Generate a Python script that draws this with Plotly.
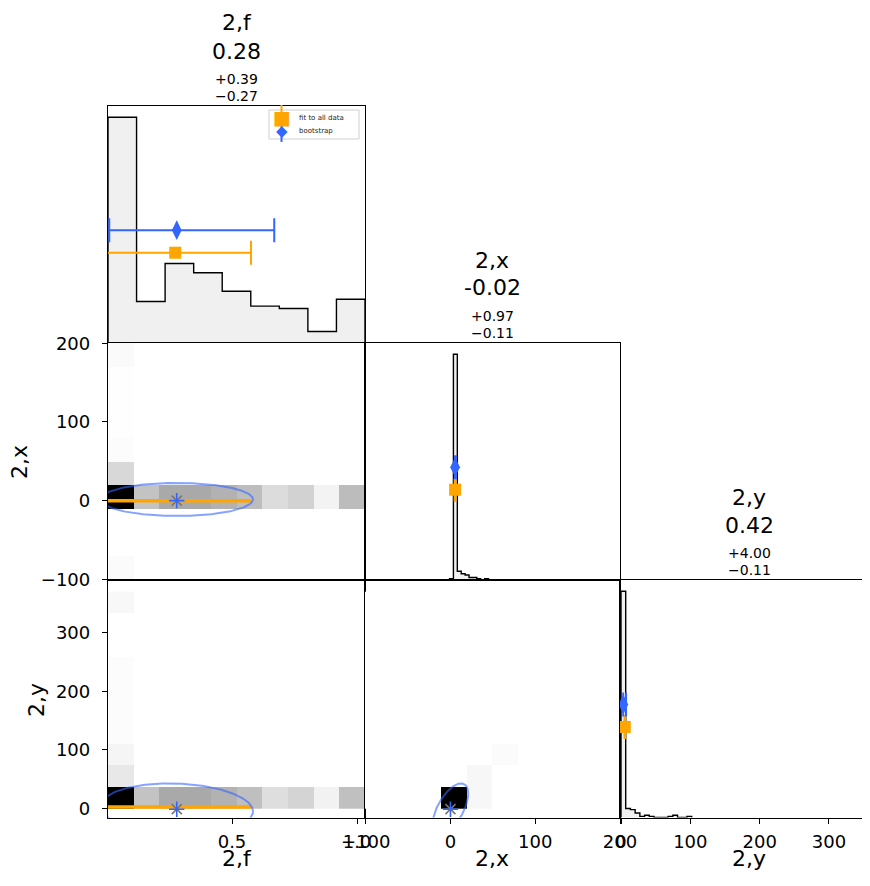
import numpy as np
import plotly.graph_objects as go

W, H = 870, 886
OFF = 8  # page body margin in the browser
FONT = "DejaVu Sans"
BLUE = "#3366ff"
ORANGE = "#ffa500"
ELL = "rgba(51,102,255,0.6)"

# ---------------- data ----------------
param_names = ["2,f", "2,x", "2,y"]
title_values = ["0.28", "-0.02", "0.42"]
title_plus = ["+0.39", "+0.97", "+4.00"]
title_minus = ["\u22120.27", "\u22120.11", "\u22120.11"]
legend_labels = ["fit to all data", "bootstrap"]

# 1D histogram of 2,f (9 bins over the data range)
f_hist_range = [0.004, 1.032]
f_hist_counts = [196, 36, 69, 61, 45, 32, 30, 10, 38]

# 1D histogram of 2,x
x_hist_start, x_hist_width = -88.5, 4.6
x_hist_counts = [0, 0, 0, 0, 0, 0, 0, 0, 0, 0,
                 0, 0, 0, 0, 0, 0, 0, 0, 0, 1,
                 180, 7, 5, 4, 2, 2, 1, 0, 1, 0,
                 0, 0, 0, 0, 0, 0, 0, 0, 0, 0,
                 0, 0, 0, 0, 0, 0, 0, 0, 0, 0,
                 0, 0, 0, 0, 0, 0, 0, 0, 0, 0]

# 1D histogram of 2,y
y_hist_start, y_hist_width = 0.0, 6.8
y_hist_counts = [200, 8, 7, 4, 1, 2, 1, 0, 0, 0, 1, 2, 0, 0, 1]

# 2D histogram bin ranges (10 x 10)
f2d_range = [0.004, 1.032]
x2d_range = [-100.9, 200.4]
y2d_range = [0.0, 370.0]

# 2,x (rows, bottom to top) vs 2,f (columns)
fx_counts = [
    [1.2, 0, 0, 0, 0, 0, 0, 0, 0, 0],
    [0, 0, 0, 0, 0, 0, 0, 0, 0, 0],
    [0, 0, 0, 0, 0, 0, 0, 0, 0, 0],
    [76, 18, 25.6, 25.6, 23, 19.7, 10.4, 13.4, 3.6, 20],
    [11.5, 0, 0, 0, 0, 0, 0, 0, 0, 0],
    [1.0, 0, 0, 0, 0, 0, 0, 0, 0, 0],
    [0.3, 0, 0, 0, 0, 0, 0, 0, 0, 0],
    [0.3, 0, 0, 0, 0, 0, 0, 0, 0, 0],
    [0.3, 0, 0, 0, 0, 0, 0, 0, 0, 0],
    [1.5, 0, 0, 0, 0, 0, 0, 0, 0, 0],
]
# 2,y (rows) vs 2,f (columns)
fy_counts = [
    [76, 18, 25.6, 25.6, 23, 19, 9.8, 12.8, 3.9, 18.8],
    [6.9, 0, 0, 0, 0, 0, 0, 0, 0, 0],
    [3.0, 0, 0, 0, 0, 0, 0, 0, 0, 0],
    [1.0, 0, 0, 0, 0, 0, 0, 0, 0, 0],
    [1.0, 0, 0, 0, 0, 0, 0, 0, 0, 0],
    [1.0, 0, 0, 0, 0, 0, 0, 0, 0, 0],
    [1.0, 0, 0, 0, 0, 0, 0, 0, 0, 0],
    [0, 0, 0, 0, 0, 0, 0, 0, 0, 0],
    [0, 0, 0, 0, 0, 0, 0, 0, 0, 0],
    [2.0, 0, 0, 0, 0, 0, 0, 0, 0, 0],
]
# 2,y (rows) vs 2,x (columns)
xy_counts = [
    [0, 0, 0, 90, 2.8, 0, 0, 0, 0, 0],
    [0, 0, 0, 0, 2.8, 0, 0, 0, 0, 0],
    [0, 0, 0, 0, 0, 1.4, 0, 0, 0, 0],
    [0, 0, 0, 0, 0, 0, 0, 0, 0, 0],
    [0, 0, 0, 0, 0, 0, 0, 0, 0, 0],
    [0, 0, 0, 0, 0, 0, 0, 0, 0, 0],
    [0, 0, 0, 0, 0, 0, 0, 0, 0, 0],
    [0, 0, 0, 0, 0, 0, 0, 0, 0, 0],
    [0, 0, 0, 0, 0, 0, 0, 0, 0, 0],
    [0, 0, 0, 0, 0, 0, 0, 0, 0, 0],
]

# point estimates: [center, minus, plus]
fit_f = [0.273, 0.30, 0.303]
fit_x = [5.5, 0.5, 0.5]
fit_y = [5.5, 0.5, 0.5]
boot_f = [0.279, 0.27, 0.39]
boot_x = [5.5, 0.11, 0.97]
boot_y = [3.3, 0.11, 4.00]

# best-fit point for 2D panels (2,f, 2,x, 2,y) and the fit line heights
star_f, star_x, star_y = 0.279, 0.0, -1.5
fit_line_x_level, fit_line_y_level = 0.0, 2.2
# ellipse: centre and half-extents, correlations
ell_center = [0.279, 1.5, -1.0]
ell_half = [0.305, 21.0, 43.5]
ell_rho_fx, ell_rho_fy, ell_rho_xy = 0.0, -0.1, 0.6

tick_f = [0.5, 1.0]
tick_f_text = ["0.5", "1.0"]
tick_x = [-100, 0, 100, 200]
tick_x_text = ["\u2212100", "0", "100", "200"]
tick_y = [0, 100, 200, 300]
tick_y_text = ["0", "100", "200", "300"]

# ---------------- helpers ----------------
def fx(px):
    return (px - OFF) / W

def fy(py):
    return 1 - (py - OFF) / H

def step_xy(edges, counts):
    xs, ys = [edges[0]], [0]
    for i, c in enumerate(counts):
        xs += [edges[i], edges[i + 1]]
        ys += [c, c]
    xs.append(edges[-1])
    ys.append(0)
    return xs, ys

def ellipse(cx, cy, ax, ay, rho, n=240):
    t = np.linspace(0, 2 * np.pi, n)
    x = cx + ax * np.cos(t)
    y = cy + ay * (rho * np.cos(t) + np.sqrt(1 - rho ** 2) * np.sin(t))
    return x, y

cols = [(108, 365), (365, 620), (620, 878)]
rows = [(106, 343), (343, 580), (580, 817.5)]

fig = go.Figure()

def add_hist(edges, counts, xa, ya):
    xs, ys = step_xy(edges, counts)
    fig.add_trace(go.Scatter(x=xs, y=ys, mode="lines", fill="tozeroy",
                             fillcolor="#f0f0f0", line=dict(color="black", width=1.4),
                             xaxis=xa, yaxis=ya, showlegend=False, hoverinfo="skip"))

def add_points(fit, boot, ymax_count, xa, ya):
    fig.add_trace(go.Scatter(
        x=[fit[0]], y=[0.4 * ymax_count], mode="markers", name=legend_labels[0],
        marker=dict(symbol="square", size=12, color=ORANGE),
        error_x=dict(type="data", symmetric=False, array=[fit[2]], arrayminus=[fit[1]],
                     color=ORANGE, thickness=2, width=12),
        xaxis=xa, yaxis=ya, showlegend=False, hoverinfo="skip"))
    fig.add_trace(go.Scatter(
        x=[boot[0]], y=[0.5 * ymax_count], mode="markers", name=legend_labels[1],
        marker=dict(symbol="diamond-tall", size=14, color=BLUE),
        error_x=dict(type="data", symmetric=False, array=[boot[2]], arrayminus=[boot[1]],
                     color=BLUE, thickness=2, width=12),
        xaxis=xa, yaxis=ya, showlegend=False, hoverinfo="skip"))

def add_heat(xr, yr, z, xa, ya):
    xe = np.linspace(xr[0], xr[1], len(z[0]) + 1)
    ye = np.linspace(yr[0], yr[1], len(z) + 1)
    fig.add_trace(go.Heatmap(x=xe, y=ye, z=z, zmin=0, zmax=max(max(r) for r in z),
                             colorscale=[[0, "#ffffff"], [1, "#000000"]], showscale=False,
                             xaxis=xa, yaxis=ya, hoverinfo="skip"))

def add_star(x, y, xa, ya):
    fig.add_trace(go.Scatter(x=[x], y=[y], mode="markers",
                             marker=dict(symbol="x-thin", size=10, line=dict(color="#777777", width=1.6)),
                             xaxis=xa, yaxis=ya, showlegend=False, hoverinfo="skip"))
    fig.add_trace(go.Scatter(x=[x], y=[y], mode="markers",
                             marker=dict(symbol="cross-thin", size=11, line=dict(color=BLUE, width=1.6)),
                             xaxis=xa, yaxis=ya, showlegend=False, hoverinfo="skip"))

def add_ell(cx, cy, ax, ay, rho, xa, ya):
    ex, ey = ellipse(cx, cy, ax, ay, rho)
    fig.add_trace(go.Scatter(x=ex, y=ey, mode="lines", line=dict(color=ELL, width=2),
                             xaxis=xa, yaxis=ya, showlegend=False, hoverinfo="skip"))

# ---- panel 1: 2,f histogram
f_edges = np.linspace(f_hist_range[0], f_hist_range[1], len(f_hist_counts) + 1)
add_hist(f_edges, f_hist_counts, "x", "y")
add_points(fit_f, boot_f, max(f_hist_counts), "x", "y")

# ---- panel 2: 2,x vs 2,f
add_heat(f2d_range, x2d_range, fx_counts, "x2", "y2")
fig.add_trace(go.Scatter(x=[fit_f[0] - fit_f[1], fit_f[0] + fit_f[2]],
                         y=[fit_line_x_level, fit_line_x_level], mode="lines",
                         line=dict(color=ORANGE, width=3.5), xaxis="x2", yaxis="y2",
                         showlegend=False, hoverinfo="skip"))
add_ell(ell_center[0], ell_center[1], ell_half[0], ell_half[1], ell_rho_fx, "x2", "y2")
add_star(star_f, star_x, "x2", "y2")

# ---- panel 3: 2,x histogram
x_edges = x_hist_start + x_hist_width * np.arange(len(x_hist_counts) + 1)
add_hist(x_edges, x_hist_counts, "x3", "y3")
add_points(fit_x, boot_x, max(x_hist_counts), "x3", "y3")

# ---- panel 4: 2,y vs 2,f
add_heat(f2d_range, y2d_range, fy_counts, "x4", "y4")
fig.add_trace(go.Scatter(x=[fit_f[0] - fit_f[1], fit_f[0] + fit_f[2]],
                         y=[fit_line_y_level, fit_line_y_level], mode="lines",
                         line=dict(color=ORANGE, width=3.5), xaxis="x4", yaxis="y4",
                         showlegend=False, hoverinfo="skip"))
add_ell(ell_center[0], ell_center[2], ell_half[0], ell_half[2], ell_rho_fy, "x4", "y4")
add_star(star_f, star_y, "x4", "y4")

# ---- panel 5: 2,y vs 2,x
add_heat(x2d_range, y2d_range, xy_counts, "x5", "y5")
add_ell(star_x, ell_center[2], ell_half[1], ell_half[2], ell_rho_xy, "x5", "y5")
add_star(star_x, star_y, "x5", "y5")

# ---- panel 6: 2,y histogram
y_edges = y_hist_start + y_hist_width * np.arange(len(y_hist_counts) + 1)
add_hist(y_edges, y_hist_counts, "x6", "y6")
add_points(fit_y, boot_y, max(y_hist_counts), "x6", "y6")

# ---------------- axes ----------------
tickfont = dict(family=FONT, size=18, color="black")

def axis(dom, rng, anchor, tickvals=None, ticktext=None, mirror=True, standoff=None):
    d = dict(domain=dom, range=rng, anchor=anchor, showline=True, linecolor="black",
             linewidth=1.3, mirror=mirror, showgrid=False, zeroline=False,
             fixedrange=True, layer="above traces", automargin=False)
    if tickvals is None:
        d.update(ticks="", showticklabels=False)
    else:
        d.update(ticks="outside", ticklen=5, tickwidth=1.3, tickcolor="black",
                 tickvals=tickvals, ticktext=ticktext, showticklabels=True,
                 tickfont=tickfont)
        if standoff is not None:
            d["ticklabelstandoff"] = standoff
    return d

def xdom(c):
    return [fx(cols[c][0]), min(1.0, fx(cols[c][1]))]

def ydom(r):
    return [fy(rows[r][1]), fy(rows[r][0])]

rng_f = [0.004, 1.032]
rng_x_col = [-100.8, 200.0]
rng_x_row = [-100.9, 200.4]
rng_y_row = [-15.7, 390.0]
rng_y_col = [-1.44, 370.7]

XSO = 3
layout_axes = dict(
    xaxis=axis(xdom(0), rng_f, "y"),
    yaxis=axis(ydom(0), [0, 1.05 * max(f_hist_counts)], "x"),
    xaxis2=axis(xdom(0), rng_f, "y2"),
    yaxis2=axis(ydom(1), rng_x_row, "x2", tick_x, tick_x_text, standoff=8),
    xaxis3=axis(xdom(1), rng_x_col, "y3"),
    yaxis3=axis(ydom(1), [0, 1.05 * max(x_hist_counts)], "x3"),
    xaxis4=axis(xdom(0), rng_f, "y4", tick_f, tick_f_text, standoff=XSO),
    yaxis4=axis(ydom(2), rng_y_row, "x4", tick_y, tick_y_text, standoff=8),
    xaxis5=axis(xdom(1), rng_x_col, "y5", tick_x, tick_x_text, standoff=XSO),
    yaxis5=axis(ydom(2), rng_y_row, "x5"),
    xaxis6=axis(xdom(2), rng_y_col, "y6", tick_y, tick_y_text, standoff=XSO),
    yaxis6=axis(ydom(2), [0, 1.05 * max(y_hist_counts)], "x6", mirror=False),
)

# ---------------- annotations ----------------
ann = []
title_offsets = [83, 55, 27, 10]
title_sizes = [22, 22, 14, 14]
for i in range(3):
    cx = (cols[i][0] + cols[i][1]) / 2
    top = rows[i][0]
    texts = [param_names[i], title_values[i], title_plus[i], title_minus[i]]
    for t, off, sz in zip(texts, title_offsets, title_sizes):
        ann.append(dict(x=fx(cx), y=fy(top - off), xref="paper", yref="paper", text=t,
                        showarrow=False, xanchor="center", yanchor="middle",
                        font=dict(family=FONT, size=sz, color="black")))
    ann.append(dict(x=fx(cx), y=fy(858), xref="paper", yref="paper", text=param_names[i],
                    showarrow=False, xanchor="center", yanchor="middle",
                    font=dict(family=FONT, size=22, color="black")))

ann.append(dict(x=fx(19), y=fy(462), xref="paper", yref="paper", text=param_names[1],
                showarrow=False, textangle=-90, xanchor="center", yanchor="middle",
                font=dict(family=FONT, size=22, color="black")))
ann.append(dict(x=fx(36), y=fy(700), xref="paper", yref="paper", text=param_names[2],
                showarrow=False, textangle=-90, xanchor="center", yanchor="middle",
                font=dict(family=FONT, size=22, color="black")))

# ---- legend (matplotlib-style box inside the 2,f panel)
shapes = [
    dict(type="rect", xref="paper", yref="paper", x0=fx(269), x1=fx(359), y0=fy(139), y1=fy(110),
         line=dict(color="#d0d0d0", width=1), fillcolor="rgba(255,255,255,0.8)", layer="above"),
    dict(type="line", xref="paper", yref="paper", x0=fx(281.5), x1=fx(281.5), y0=fy(126), y1=fy(105),
         line=dict(color=ORANGE, width=2), layer="above"),
    dict(type="line", xref="paper", yref="paper", x0=fx(281.5), x1=fx(281.5), y0=fy(142), y1=fy(121),
         line=dict(color=BLUE, width=2), layer="above"),
]
leg_glyphs = [("\u25a0", ORANGE, 116.5, 19), ("\u25c6", BLUE, 131.5, 15)]
for g, col, yy, sz in leg_glyphs:
    ann.append(dict(x=fx(281.5), y=fy(yy), xref="paper", yref="paper", text=g, showarrow=False,
                    xanchor="center", yanchor="middle", font=dict(family=FONT, size=sz, color=col)))
for lab, yy in zip(legend_labels, [117.5, 130.5]):
    ann.append(dict(x=fx(297), y=fy(yy), xref="paper", yref="paper", text=lab, showarrow=False,
                    xanchor="left", yanchor="middle", font=dict(family=FONT, size=7, color="#222222")))

fig.update_layout(
    width=W, height=H,
    margin=dict(l=0, r=0, t=0, b=0, autoexpand=False),
    paper_bgcolor="white", plot_bgcolor="white",
    font=dict(family=FONT, color="black"),
    annotations=ann,
    shapes=shapes,
    hovermode=False,
    showlegend=False,
    **layout_axes,
)

fig.write_html("out.html")
